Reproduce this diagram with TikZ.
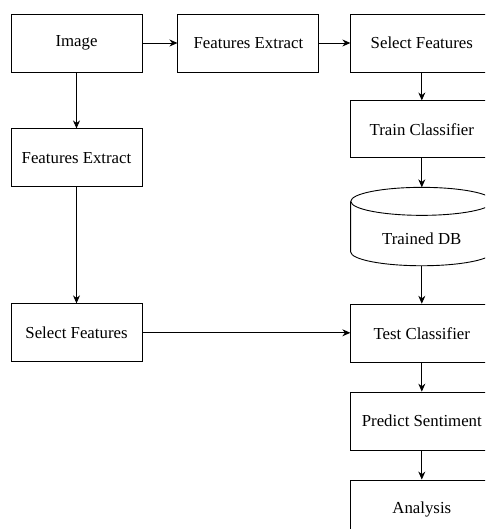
\documentclass[tikz,border=0pt]{standalone}
\usepackage{fontspec}
\setmainfont{Liberation Serif}
\usetikzlibrary{arrows.meta, positioning, calc}
\tikzset{
  block/.style = {draw, rectangle, align=center, line width=0.9pt,
                  font=\fontsize{16.8}{20}\selectfont,
                  minimum height=58pt, minimum width=131pt, inner sep=0pt},
  wide/.style  = {block, minimum width=142pt},
  store/.style = {rectangle, minimum height=78pt, minimum width=142pt,
                  inner sep=0pt},
  lbl/.style   = {font=\fontsize{16.8}{20}\selectfont},
  arr/.style   = {-{Stealth[length=8pt, width=7pt]}, line width=0.9pt}
}

\begin{document}
\begin{tikzpicture}

  \clip (0,0) rectangle (485pt,-529pt);

  % ── top row ──────────────────────────────────────────────────────────────
  \node[block] (Img) at (76.5pt,-43pt) {Image};
  \node[block, minimum width=141pt, right=35pt of Img] (FEtop)  {Features Extract};
  \node[wide,  right=31pt of FEtop]                    (SFtop)  {Select Features};

  % ── left column (testing path) ───────────────────────────────────────────
  \node[block, below=56pt of Img]   (FEleft) {Features Extract};
  \node[block, below=116pt of FEleft] (SFleft) {Select Features};

  % ── right column (training + testing) ────────────────────────────────────
  \node[wide,  below=28pt of SFtop, minimum height=57pt] (Train) {Train Classifier};
  \node[store, below=29pt of Train]  (DB)      {};
  \node[wide,  below=38pt of DB]     (Test)    {Test Classifier};
  \node[wide,  below=29pt of Test]   (Predict) {Predict Sentiment};
  \node[wide,  below=29pt of Predict] (Anal)   {Analysis};

  % trained database drawn as a cylinder
  \draw[line width=0.9pt] ($(DB.north west)+(0,-14pt)$)
        -- ($(DB.south west)+(0,14pt)$)
        arc[start angle=180, end angle=360, x radius=71pt, y radius=14pt]
        -- ($(DB.north east)+(0,-14pt)$);
  \draw[line width=0.9pt] ($(DB.north)+(0,-14pt)$)
        ellipse[x radius=71pt, y radius=14pt];
  \node[lbl] (DBtxt) at ($(DB.center)+(0,-12pt)$) {Trained DB};

  % ── Connections ──────────────────────────────────────────────────────────
  \draw[arr] (Img)    -- (FEtop);
  \draw[arr] (FEtop)  -- (SFtop);
  \draw[arr] (Img)    -- (FEleft);
  \draw[arr] (FEleft) -- (SFleft);
  \draw[arr] (SFleft) -- (SFleft -| Test.west);

  \draw[arr] (SFtop)   -- (Train);
  \draw[arr] (Train)   -- (DB);
  \draw[arr] (DB)      -- (Test);
  \draw[arr] (Test)    -- (Predict);
  \draw[arr] (Predict) -- (Anal);

\end{tikzpicture}
\end{document}
